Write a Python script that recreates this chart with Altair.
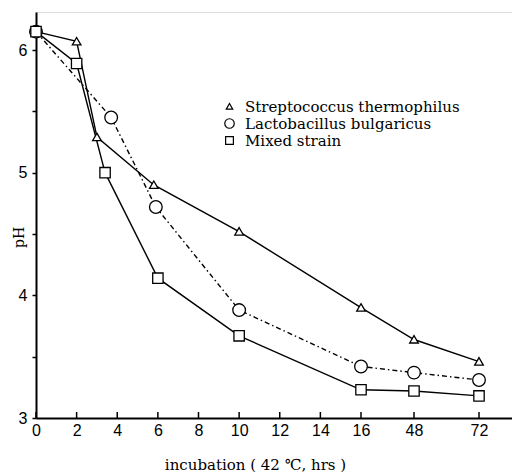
import altair as alt
import pandas as pd

series_names = ["Streptococcus thermophilus", "Lactobacillus bulgaricus", "Mixed strain"]
strep_hours = [0, 2, 3, 5.8, 10, 16, 48, 72]
strep_ph = [6.15, 6.07, 5.29, 4.90, 4.52, 3.90, 3.64, 3.46]
lacto_hours = [0, 3.7, 5.9, 10, 16, 48, 72]
lacto_ph = [6.15, 5.45, 4.72, 3.88, 3.42, 3.37, 3.31]
mixed_hours = [0, 2, 3.4, 6, 10, 16, 48, 72]
mixed_ph = [6.15, 5.89, 5.00, 4.14, 3.67, 3.23, 3.22, 3.18]
x_ticks = [0, 2, 4, 6, 8, 10, 12, 14, 16, 48, 72]
y_ticks = [3, 3.5, 4, 4.5, 5, 5.5, 6]

rows = []
for name, hs, ps in zip(series_names, [strep_hours, lacto_hours, mixed_hours],
                        [strep_ph, lacto_ph, mixed_ph]):
    for h, p in zip(hs, ps):
        rows.append({"series": name, "hour": h, "pH": p})
df = pd.DataFrame(rows)
ticks_df = pd.DataFrame({"hour": x_ticks})

W, H = 476, 406
xscale = alt.Scale(domain=[0, 16, 48, 72, 76], range=[0, 325, 378, 443, 476], nice=False, zero=False)
yscale = alt.Scale(domain=[3, 6.31], nice=False, zero=False)

tri = "M0,-0.62L0.68,0.55L-0.68,0.55Z"
sq = "M-0.82,-0.82H0.82V0.82H-0.82Z"

x_enc = alt.X("hour:Q", scale=xscale, title="incubation ( 42 ℃,  hrs )",
              axis=alt.Axis(values=x_ticks, grid=False, ticks=False, domainColor="black",
                            domainWidth=2, labelFont="Liberation Sans", labelFontSize=16,
                            labelColor="black", labelPadding=4, titleFont="DejaVu Serif",
                            titleFontSize=15, titleFontWeight="normal", titleColor="black",
                            titleX=219, titleY=46, titleBaseline="middle", titleAlign="center",
                            labelFlush=False))
y_enc = alt.Y("pH:Q", scale=yscale, title="pH",
              axis=alt.Axis(values=y_ticks, grid=False, domainColor="black", domainWidth=2,
                            tickColor="black", tickWidth=1.5, tickSize=4,
                            labelExpr="datum.value % 1 == 0 ? format(datum.value, 'd') : ''",
                            labelFont="Liberation Sans", labelFontSize=16, labelColor="black",
                            labelPadding=5, titleFont="DejaVu Serif", titleFontSize=14,
                            titleFontWeight="normal", titleColor="black",
                            titleX=-17, titleY=225, titleBaseline="middle"))

legend = alt.Legend(orient="none", legendX=186, legendY=87, title=None)

solid = alt.Chart(df).transform_filter(
    alt.datum.series != series_names[1]
).mark_line(color="black", strokeWidth=1.4).encode(x=x_enc, y=y_enc, detail="series:N")

dashed = alt.Chart(df).transform_filter(
    alt.datum.series == series_names[1]
).mark_line(color="black", strokeWidth=1.4, strokeDash=[5, 3, 1.5, 3]).encode(x=x_enc, y=y_enc)

points = alt.Chart(df).mark_point(filled=False, fill="white", fillOpacity=1,
                                  strokeWidth=1.3, size=160, opacity=1).encode(
    x=x_enc, y=y_enc,
    shape=alt.Shape("series:N", scale=alt.Scale(domain=series_names, range=[tri, "circle", sq]),
                    legend=legend),
    color=alt.Color("series:N", scale=alt.Scale(domain=series_names,
                                                range=["black", "black", "black"]),
                    legend=legend),
)

xticks = alt.Chart(ticks_df).mark_rule(color="black", strokeWidth=1.5).encode(
    x=x_enc,
    y=alt.value(H), y2=alt.value(H - 6),
)

chart = alt.layer(solid, dashed, xticks, points).properties(
    width=W, height=H,
    autosize=alt.AutoSizeParams(type="none"),
    padding={"left": 28, "top": 4, "right": 0, "bottom": 54},
).configure_view(stroke=None).configure(background="white").configure_legend(
    labelFont="DejaVu Serif", labelFontSize=15, labelColor="black", labelLimit=400,
    symbolFillColor="white", symbolStrokeWidth=1.2, symbolSize=90,
    rowPadding=1, labelOffset=8,
)

chart.save("out.html", embed_options={"renderer": "svg", "actions": False})
